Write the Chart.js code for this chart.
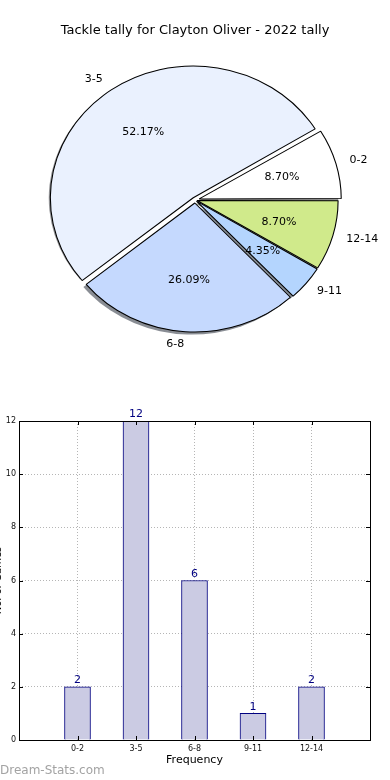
<!DOCTYPE html>
<html>
<head>
<meta charset="utf-8">
<script src="https://cdn.jsdelivr.net/npm/chart.js@4.4.0/dist/chart.umd.min.js"></script>
<style>
  html, body { margin: 0; padding: 0; background: #fff; width: 390px; height: 780px; overflow: hidden; position: relative; }
  #pieChart { position: absolute; left: 0; top: 0; }
  #barChart { position: absolute; left: -8px; top: 360px; }
  #credit { position: absolute; left: 0; top: 762px; font: 12px "DejaVu Sans", sans-serif; line-height: 16px; color: #a3a3a3; }
</style>
</head>
<body>
<canvas id="pieChart" width="390" height="360"></canvas>
<canvas id="barChart" width="398" height="420"></canvas>
<div id="credit">Dream-Stats.com</div>
<script>
var chartTitle = 'Tackle tally for Clayton Oliver - 2022 tally';
var categories = ['0-2', '3-5', '6-8', '9-11', '12-14'];
var tallies = [2, 12, 6, 1, 2];
var yTicks = [0, 2, 4, 6, 8, 10, 12];
var xTitle = 'Frequency';
var yTitle = 'No. of Games';

Chart.defaults.font.family = '"DejaVu Sans", sans-serif';
Chart.defaults.color = '#000';

// pie styling (matplotlib-like: counter-clockwise from 3 o'clock, exploded, shadowed)
var pieColors = ['#ffffff', '#eaf1fe', '#c5d9fe', '#b4d5fe', '#d0ea8b'];
var pieExplode = [16, 11, 12, 7, 8];
var stretchX = 1.085;

function rev(a) { return a.slice().reverse(); }

function shadowOf(hex) {
    var r = parseInt(hex.substr(1, 2), 16), g = parseInt(hex.substr(3, 2), 16), b = parseInt(hex.substr(5, 2), 16);
    return 'rgba(' + Math.round(r * 0.3) + ',' + Math.round(g * 0.3) + ',' + Math.round(b * 0.3) + ',0.6)';
}

// how far Chart.js moves an arc for its offset
function arcShift(el) {
    var off = el.options.offset || 0;
    var fix = 1 - Math.sin(Math.min(Math.PI, el.circumference || 0));
    return off / 4 * (1 + fix);
}

var piePlugin = {
    id: 'piePlugin',
    beforeDatasetsDraw: function(chart) {
        var ctx = chart.ctx;
        var arcs = chart.getDatasetMeta(0).data;
        var cx = arcs[0].x, cy = arcs[0].y;
        ctx.save();
        ctx.translate(cx, cy);
        ctx.scale(stretchX, 1);
        ctx.translate(-cx, -cy);
        // shadows under all wedges
        arcs.forEach(function(el) {
            var mid = (el.startAngle + el.endAngle) / 2;
            var t = arcShift(el);
            var ox = el.x + Math.cos(mid) * t - 2.6;
            var oy = el.y + Math.sin(mid) * t + 2.6;
            ctx.beginPath();
            ctx.moveTo(ox, oy);
            ctx.arc(ox, oy, el.outerRadius, el.startAngle, el.endAngle);
            ctx.closePath();
            ctx.fillStyle = shadowOf(el.options.backgroundColor);
            ctx.fill();
        });
    },
    afterDatasetsDraw: function(chart) {
        var ctx = chart.ctx;
        ctx.restore();
        var arcs = chart.getDatasetMeta(0).data;
        var labels = chart.data.labels;
        var vals = chart.data.datasets[0].data;
        var total = vals.reduce(function(a, b) { return a + b; }, 0);
        ctx.save();
        ctx.font = '11px "DejaVu Sans", sans-serif';
        ctx.fillStyle = '#000';
        ctx.textBaseline = 'middle';
        arcs.forEach(function(el, i) {
            var mid = (el.startAngle + el.endAngle) / 2;
            var t = arcShift(el);
            var R = el.outerRadius;
            var c = Math.cos(mid), s = Math.sin(mid);
            ctx.textAlign = c > 0 ? 'left' : 'right';
            ctx.fillText(labels[i], el.x + stretchX * (t + 1.1 * R) * c, el.y + (t + 1.1 * R) * s);
            ctx.textAlign = 'center';
            ctx.fillText((vals[i] / total * 100).toFixed(2) + '%', el.x + stretchX * (t + 0.6 * R) * c, el.y + (t + 0.6 * R) * s);
        });
        ctx.font = '13px "DejaVu Sans", sans-serif';
        ctx.textAlign = 'center';
        ctx.fillText(chartTitle, 195, 31);
        ctx.restore();
    }
};

new Chart(document.getElementById('pieChart'), {
    type: 'pie',
    data: {
        labels: rev(categories),
        datasets: [{
            data: rev(tallies),
            backgroundColor: rev(pieColors),
            borderColor: '#000',
            borderWidth: 1,
            offset: rev(pieExplode),
            hoverOffset: 0
        }]
    },
    options: {
        responsive: false,
        animation: false,
        events: [],
        rotation: 90,
        layout: { padding: { top: 62.5, bottom: 22.5, left: 50, right: 50 } },
        plugins: { legend: { display: false }, tooltip: { enabled: false } }
    },
    plugins: [piePlugin]
});

// bar chart: frame, inward ticks and value labels
var framePlugin = {
    id: 'framePlugin',
    afterDatasetsDraw: function(chart) {
        var ctx = chart.ctx, a = chart.chartArea;
        var xs = chart.scales.x, ys = chart.scales.y;
        ctx.save();
        ctx.strokeStyle = '#000';
        ctx.lineWidth = 1;
        ctx.strokeRect(Math.round(a.left) + 0.5, Math.round(a.top) + 0.5, Math.round(a.right - a.left), Math.round(a.bottom - a.top));
        ctx.beginPath();
        yTicks.forEach(function(v) {
            var py = Math.round(ys.getPixelForValue(v)) + 0.5;
            ctx.moveTo(a.left, py); ctx.lineTo(a.left + 4, py);
            ctx.moveTo(a.right - 4, py); ctx.lineTo(a.right, py);
        });
        categories.forEach(function(c, i) {
            var px = Math.round(xs.getPixelForValue(i + 1)) + 0.5;
            ctx.moveTo(px, a.bottom); ctx.lineTo(px, a.bottom - 4);
            ctx.moveTo(px, a.top); ctx.lineTo(px, a.top + 4);
        });
        ctx.stroke();

        var bars = chart.getDatasetMeta(0).data;
        var vals = chart.data.datasets[0].data;
        ctx.font = '11px "DejaVu Sans", sans-serif';
        ctx.fillStyle = '#000080';
        ctx.textAlign = 'center';
        ctx.textBaseline = 'bottom';
        bars.forEach(function(el, i) {
            if (vals[i] == null) return;
            ctx.fillText(String(vals[i]), el.x, el.y - 1);
        });
        ctx.restore();
    }
};

new Chart(document.getElementById('barChart'), {
    type: 'bar',
    data: {
        labels: [''].concat(categories, ['']),
        datasets: [{
            data: [null].concat(tallies, [null]),
            backgroundColor: '#cbcbe3',
            borderColor: '#000080',
            borderWidth: 1,
            barThickness: 26
        }]
    },
    options: {
        responsive: false,
        animation: false,
        events: [],
        layout: { padding: { top: 61, right: 20, left: 0, bottom: 0 } },
        plugins: { legend: { display: false }, tooltip: { enabled: false } },
        scales: {
            x: {
                type: 'category',
                offset: false,
                grid: { color: '#b5b5b5', drawTicks: false, offset: false },
                border: { display: false, dash: [1, 2] },
                ticks: { font: { size: 8 }, color: '#111', padding: 4, maxRotation: 0, autoSkip: false },
                title: { display: true, text: xTitle, font: { size: 11 }, color: '#000', padding: { top: 0, bottom: 13 } },
                afterFit: function(s) { s.height = 40; }
            },
            y: {
                min: 0,
                max: 12,
                grid: { color: '#b5b5b5', drawTicks: false },
                border: { display: false, dash: [1, 2] },
                ticks: { stepSize: 2, font: { size: 8 }, color: '#111', padding: 3 },
                title: { display: true, text: yTitle, font: { size: 10 }, color: '#000', padding: 0 },
                afterFit: function(s) { s.width = 27; }
            }
        }
    },
    plugins: [framePlugin]
});
</script>
</body>
</html>
